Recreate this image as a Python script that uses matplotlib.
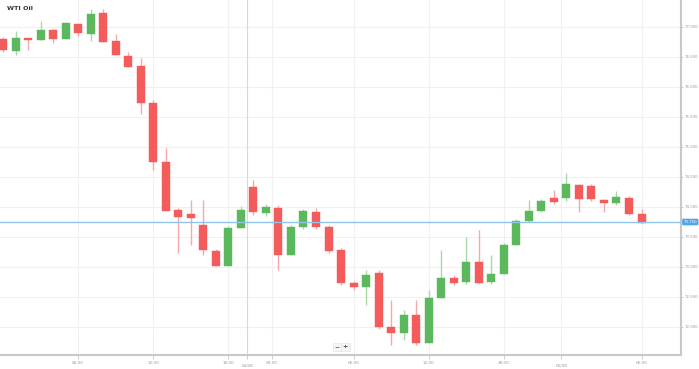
import matplotlib
matplotlib.use("Agg")
import matplotlib.pyplot as plt
from matplotlib.patches import Rectangle

# ---------------- data (prices) ----------------
# color: 'g' up candle, 'r' down candle
colors = ['r','g','r','g','r','g','r','g','r','r','r','r','r','r','r','r','r','r','g','g',
          'r','g','r','g','g','r','r','r','r','g','r','r','g','r','g','g','r','g','r','g',
          'g','g','g','g','r','g','r','r','r','g','r','r']
# body top / bottom and wick high / low read as chart pixel rows, converted below
body_top_px = [39,38,38,30,30,23,24,14,13,41,56,66,103,162,210,214,225,251,228,210,
               187,207,208,227,211,212,227,250,283,275,273,327,315,315,298,278,278,262,262,274,
               245,221,211,201,198,184,185,186,200,197,198,214]
body_bot_px = [50,51,40,40,39,39,33,34,42,55,67,103,162,211,217,218,250,266,266,228,
               212,213,255,255,227,227,251,283,287,287,327,333,333,343,343,298,283,282,283,282,
               274,245,221,211,202,198,199,199,203,203,214,223]
wick_hi_px = [37,31,38,21,29,22,24,9,9,34,52,58,100,148,208,200,200,249,226,206,
              180,204,205,225,209,208,225,248,281,270,270,300,310,300,290,250,275,237,230,255,
              243,219,200,199,190,173,184,184,199,191,196,209]
wick_lo_px = [52,55,50,40,43,39,36,41,42,55,67,114,170,211,253,245,255,266,266,228,
              215,216,270,255,229,229,253,285,290,305,329,345,340,345,343,298,285,284,284,284,
              274,245,222,212,204,201,212,201,212,205,215,223]

y_tick_vals = [77.0, 76.5, 76.0, 75.5, 75.0, 74.5, 74.0, 73.5, 73.0, 72.5, 72.0]
last_price = 73.75
last_price_label = "73.750"
time_ticks = [6, 12, 18, 21.5, 28, 34, 40, 51]
time_labels = ["06:00", "12:00", "18:00", "03:00", "06:00", "12:00", "18:00", "06:00"]
date_ticks = [19.5, 44.6]
date_labels = ["04/08", "05/08"]
title = "WTI Oil"

def px_to_price(y):
    return 77.0 - (y - 27) / 60.0

b_top = [px_to_price(v) for v in body_top_px]
b_bot = [px_to_price(v) for v in body_bot_px]
w_hi = [px_to_price(v) for v in wick_hi_px]
w_lo = [px_to_price(v) for v in wick_lo_px]

W, H = 699, 369
fig = plt.figure(figsize=(W/100, H/100), dpi=100)
ax_l, ax_r, ax_t, ax_b = 0, 681, 0, 355
ax = fig.add_axes([ax_l/W, (H-ax_b)/H, (ax_r-ax_l)/W, (ax_b-ax_t)/H])
step = 12.52
x0 = 3
ax.set_xlim((0 - x0)/step, (ax_r - x0)/step)
ax.set_ylim(px_to_price(ax_b), px_to_price(0))

GREEN = '#5cb85c'
RED = '#f45b5b'
GREEN_W = '#a6d9a6'
RED_W = '#f7a8a8'

grid_c = '#f0f0f0'
for v in y_tick_vals:
    ax.axhline(v, color=grid_c, lw=0.8, zorder=0)
for t in time_ticks:
    ax.axvline(t, color=grid_c, lw=0.8, zorder=0)
ax.axvline(date_ticks[0], color='#d8d8d8', lw=0.8, zorder=0)
ax.axvline(date_ticks[1], color=grid_c, lw=0.8, zorder=0)

bw = 0.64
for i, c in enumerate(colors):
    fc = GREEN if c == 'g' else RED
    wc = GREEN_W if c == 'g' else RED_W
    ax.plot([i, i], [w_lo[i], w_hi[i]], color=wc, lw=1.0, zorder=2, solid_capstyle='butt')
    h = max(b_top[i] - b_bot[i], 0.02)
    ax.add_patch(Rectangle((i - bw/2, b_bot[i]), bw, h, facecolor=fc,
                           edgecolor=fc, lw=0.3, zorder=3))

ax.axhline(last_price, color='#8fc3ea', lw=1.0, zorder=4)

for s in ['top', 'left']:
    ax.spines[s].set_visible(False)
ax.spines['bottom'].set_color('#c8c8c8')
ax.spines['bottom'].set_linewidth(1.5)
ax.spines['right'].set_color('#c8c8c8')
ax.spines['right'].set_linewidth(1.5)

ax.yaxis.tick_right()
ax.set_yticks(y_tick_vals)
ax.set_yticklabels([f"{v:.3f}" for v in y_tick_vals])
ax.tick_params(axis='y', length=1.5, width=0.5, color='#bbbbbb', labelsize=2.8,
               labelcolor='#9a9a9a', pad=1)
ax.set_xticks(time_ticks + date_ticks)
ax.set_xticklabels(time_labels + ["", ""])
ax.tick_params(axis='x', length=3, width=0.5, color='#bbbbbb', labelsize=3.0,
               labelcolor='#9a9a9a', pad=1)
for t, lab in zip(date_ticks, date_labels):
    ax.text(t, -0.024, lab, transform=ax.get_xaxis_transform(), ha='center', va='top',
            fontsize=3.0, color='#9a9a9a')

# last price tag
ax.text(1.0 + 2.5/681, last_price, last_price_label, transform=ax.get_yaxis_transform(),
        ha='left', va='center', fontsize=2.8, color='white', zorder=6,
        bbox=dict(boxstyle='round,pad=0.25', fc='#4da6e8', ec='#4da6e8', lw=0.5),
        clip_on=False)

fig.text(7/W, 1 - 9/H, title, ha='left', va='center', fontsize=4.6, fontweight='bold',
         color='#333333')

# zoom buttons
fig.text(337/W, 1 - 347/H, "\u2212", ha='center', va='center', fontsize=4.5, color='#444444',
         bbox=dict(boxstyle='square,pad=0.3', fc='#f5f5f5', ec='#e0e0e0', lw=0.4))
fig.text(345/W, 1 - 347/H, "+", ha='center', va='center', fontsize=4.5, color='#444444',
         fontweight='bold',
         bbox=dict(boxstyle='square,pad=0.3', fc='#f5f5f5', ec='#e0e0e0', lw=0.4))

fig.savefig("out.png", dpi=100)
